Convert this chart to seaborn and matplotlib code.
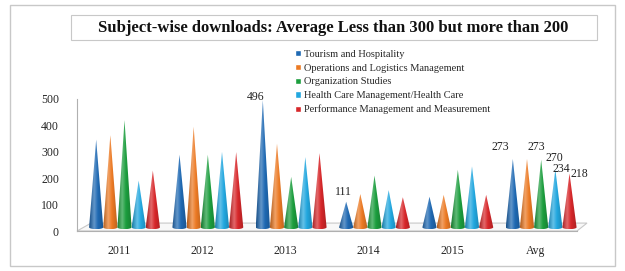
import numpy as np
import pandas as pd
import matplotlib
matplotlib.use("Agg")
import matplotlib.pyplot as plt
from matplotlib.patches import Polygon, Rectangle
from matplotlib.colors import to_rgb
import seaborn as sns

groups = ["2011", "2012", "2013", "2014", "2015", "Avg"]
subjects = ["Tourism and Hospitality",
            "Operations and Logistics Management",
            "Organization Studies",
            "Health Care Management/Health Care",
            "Performance Management and Measurement"]
colors = ["#1f69b3", "#ec7a24", "#1c9e3e", "#22a7df", "#d7272a"]

tourism = [346, 289, 496, 111, 130, 273]
operations = [363, 395, 331, 140, 137, 273]
organization = [420, 289, 205, 210, 232, 270]
health = [191, 300, 280, 155, 245, 234]
performance = [229, 299, 295, 128, 137, 218]

# labels shown on the chart: (group index, subject index, dx px, dy px)
shown = [(2, 0, -7, 3), (3, 0, -3, 10), (5, 0, -13, 12), (5, 1, 9, 12),
         (5, 2, 13, 2), (5, 3, 6, 0), (5, 4, 10, -1)]

series = [tourism, operations, organization, health, performance]
df = pd.DataFrame({
    "year": np.tile(groups, len(subjects)),
    "subject": np.repeat(subjects, len(groups)),
    "value": np.concatenate(series),
})

sns.set_style("white")
plt.rcParams["font.family"] = ["Liberation Serif", "DejaVu Serif"]

fig = plt.figure(figsize=(6.25, 2.71), dpi=100)
ax = fig.add_axes([77 / 625, 1 - 231 / 271, 500 / 625, 132 / 271])

sns.barplot(data=df, x="year", y="value", hue="subject", palette=colors,
            width=0.85, legend=False, ax=ax)

# floor of the pseudo-3D chart
floor = Polygon([(-0.5, 0), (5.5, 0), (5.62, 30), (-0.33, 30)], closed=True,
                facecolor="#f8f8f8", edgecolor="#c8c8c8", lw=0.8, zorder=1,
                clip_on=False)
ax.add_patch(floor)

# turn bars into shaded cones
shift = 0.07
base = 14
depth = 7
t = np.linspace(0, np.pi, 20)
for cont, col in zip(ax.containers, colors):
    rgb = np.array(to_rgb(col))
    stops = [rgb * 0.75, rgb + (1 - rgb) * 0.3, rgb, rgb * 0.8]
    pos = [0.0, 0.35, 0.6, 1.0]
    xs = np.linspace(0, 1, 64)
    grad = np.stack([np.interp(xs, pos, [s[k] for s in stops]) for k in range(3)], axis=-1)
    grad = grad[np.newaxis, :, :]
    for bar in cont:
        x0 = bar.get_x() + shift
        w = bar.get_width()
        h = bar.get_height()
        bar.set_visible(False)
        xc = x0 + w / 2
        arc_x = xc - (w / 2) * np.cos(t)
        arc_y = base - depth * np.sin(t)
        pts = [(xc, h)] + list(zip(arc_x, arc_y))
        cone = Polygon(pts, closed=True, facecolor="none", edgecolor="none")
        ax.add_patch(cone)
        im = ax.imshow(grad, extent=(x0, x0 + w, base - depth, h), aspect="auto",
                       origin="lower", zorder=3, interpolation="bilinear")
        im.set_clip_path(cone)

# value labels
for gi, si, dx, dy in shown:
    bar = ax.containers[si][gi]
    x = bar.get_x() + shift + bar.get_width() / 2
    h = bar.get_height()
    ax.annotate(str(series[si][gi]), (x, h), xytext=(dx * 0.72, dy * 0.72),
                textcoords="offset points", ha="center", va="center",
                fontsize=8.5, color="#222222", zorder=5)

ax.set_xlim(-0.5, 5.5)
ax.set_ylim(0, 500)
ax.set_yticks(range(0, 501, 100))
ax.set_xlabel("")
ax.set_ylabel("")
ax.set_xticks(range(len(groups)))
ax.set_xticklabels(groups)
ax.set_xticks(np.arange(-0.5, 6, 1), minor=True)
ax.tick_params(axis="x", which="major", length=0, labelsize=8.5, pad=10)
ax.tick_params(axis="x", which="minor", length=4, color="#b0b0b0", width=0.8)
ax.tick_params(axis="y", length=0, labelsize=8.5, pad=13)
for s in ["top", "right"]:
    ax.spines[s].set_visible(False)
for s in ["left", "bottom"]:
    ax.spines[s].set_color("#b0b0b0")
    ax.spines[s].set_linewidth(0.8)
ax.patch.set_alpha(0)

handles = [Rectangle((0, 0), 1, 1, facecolor=c) for c in colors]
fig.legend(handles, subjects, loc="upper left", bbox_to_anchor=(295 / 625, 1 - 50 / 271),
           frameon=False, fontsize=7.5, handlelength=0.55, handleheight=0.55,
           handletextpad=0.3, labelspacing=0.45, borderaxespad=0, borderpad=0)

# outer frame and title box
fig.patches.append(Rectangle((10 / 625, 1 - 266 / 271), 605 / 625, 261 / 271,
                             transform=fig.transFigure, fill=False,
                             edgecolor="#c8c8c8", lw=1.0))
fig.patches.append(Rectangle((71 / 625, 1 - 40 / 271), 526 / 625, 25 / 271,
                             transform=fig.transFigure, fill=False,
                             edgecolor="#c8c8c8", lw=0.8))
fig.text(333 / 625, 1 - 27.5 / 271,
         "Subject-wise downloads: Average Less than 300 but more than 200",
         ha="center", va="center", fontsize=12, fontweight="bold", color="#111111")

fig.savefig("out.png", dpi=100)
